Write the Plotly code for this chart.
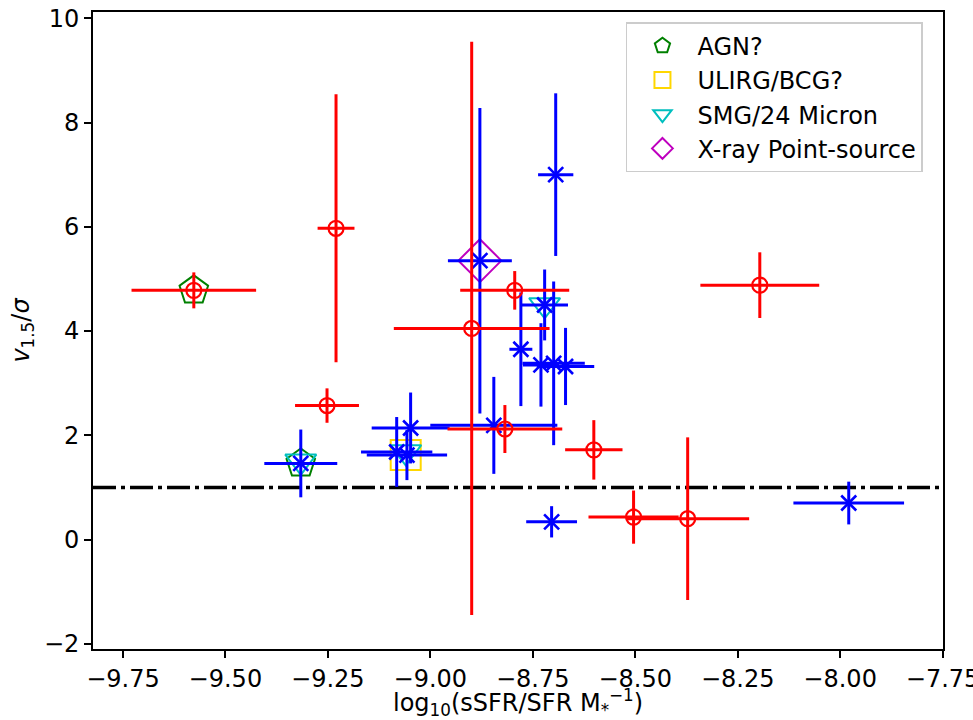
import plotly.graph_objects as go

# ---------------- data ----------------
red_x = [-9.577, -9.230, -9.252, -8.899, -8.794, -8.818, -8.601, -8.504, -8.372, -8.196]
red_y = [4.78, 5.97, 2.57, 4.05, 4.78, 2.12, 1.72, 0.43, 0.40, 4.88]
red_xerr = [0.152, 0.045, 0.078, 0.19, 0.133, 0.14, 0.07, 0.11, 0.15, 0.145]
red_yerr = [0.345, 2.57, 0.33, 5.5, 0.37, 0.46, 0.57, 0.51, 1.56, 0.63]

blue_x = [-9.316, -9.048, -9.082, -9.057, -8.879, -8.694, -8.721, -8.779,
          -8.730, -8.699, -8.670, -8.845, -8.704, -7.979]
blue_y = [1.46, 2.14, 1.68, 1.62, 5.35, 7.00, 4.50, 3.65,
          3.35, 3.38, 3.32, 2.19, 0.34, 0.70]
blue_xerr = [0.089, 0.095, 0.087, 0.098, 0.078, 0.043, 0.057, 0.028,
             0.044, 0.076, 0.07, 0.155, 0.062, 0.135]
blue_yerr = [0.65, 0.68, 0.67, 0.48, 2.93, 1.56, 0.68, 1.09,
             0.80, 1.57, 0.74, 0.93, 0.30, 0.41]

agn_x = [-9.577, -9.316]
agn_y = [4.78, 1.46]
ulirg_x = [-9.060]
ulirg_y = [1.62]
smg_x = [-9.316, -9.060, -8.721]
smg_y = [1.50, 1.68, 4.50]
xray_x = [-8.879]
xray_y = [5.35]

threshold = 1.0

x_ticks = [-9.75, -9.5, -9.25, -9.0, -8.75, -8.5, -8.25, -8.0, -7.75]
y_ticks = [-2, 0, 2, 4, 6, 8, 10]

x_title = "log<sub>10</sub>(sSFR/SFR M<sub>*</sub><sup>−1</sup>)"
y_title = "<i>v</i><sub>1.5</sub>/<i>σ</i>"

FONT = "DejaVu Sans"
FS = 24

fig = go.Figure()

# special-class markers (drawn underneath)
fig.add_trace(go.Scatter(x=agn_x, y=agn_y, mode="markers", name="AGN?",
                         marker=dict(symbol="pentagon-open", size=30,
                                     color="green", line=dict(color="green", width=2))))
fig.add_trace(go.Scatter(x=ulirg_x, y=ulirg_y, mode="markers", name="ULIRG/BCG?",
                         marker=dict(symbol="square-open", size=30,
                                     color="gold", line=dict(color="gold", width=2))))
fig.add_trace(go.Scatter(x=smg_x, y=smg_y, mode="markers", name="SMG/24 Micron",
                         marker=dict(symbol="triangle-down-open", size=27,
                                     color="#00bfbf", line=dict(color="#00bfbf", width=2))))
fig.add_trace(go.Scatter(x=xray_x, y=xray_y, mode="markers", name="X-ray Point-source",
                         marker=dict(symbol="diamond-open", size=33,
                                     color="#bf00bf", line=dict(color="#bf00bf", width=2))))

# blue sample
fig.add_trace(go.Scatter(
    x=blue_x, y=blue_y, mode="markers", showlegend=False,
    error_x=dict(type="data", array=blue_xerr, symmetric=True, color="blue", thickness=3, width=0),
    error_y=dict(type="data", array=blue_yerr, symmetric=True, color="blue", thickness=3, width=0),
    marker=dict(symbol="x-thin-open", size=15, color="blue", line=dict(color="blue", width=2.6))))

# red sample
fig.add_trace(go.Scatter(
    x=red_x, y=red_y, mode="markers", showlegend=False,
    error_x=dict(type="data", array=red_xerr, symmetric=True, color="red", thickness=3, width=0),
    error_y=dict(type="data", array=red_yerr, symmetric=True, color="red", thickness=3, width=0),
    marker=dict(symbol="circle-open", size=15, color="red", line=dict(color="red", width=2.2))))

fig.add_shape(type="line", xref="paper", x0=0, x1=1, yref="y", y0=threshold, y1=threshold,
              line=dict(color="black", width=3.5, dash="23px,5px,4px,5px"), layer="below")

# x-axis title as annotation so it can sit below the tick labels
fig.add_annotation(text=x_title, xref="paper", yref="paper", x=0.5, y=0,
                   xanchor="center", yanchor="top", yshift=-34, showarrow=False,
                   font=dict(family=FONT, size=FS, color="black"))

axis_common = dict(showgrid=False, zeroline=False, showline=True, mirror=True,
                   linecolor="black", linewidth=1.6, ticks="outside", ticklen=7,
                   tickwidth=1.6, tickcolor="black",
                   tickfont=dict(family=FONT, size=FS, color="black"))

fig.update_layout(
    width=973, height=720,
    margin=dict(l=93, r=30, t=12, b=71),
    paper_bgcolor="white", plot_bgcolor="white",
    font=dict(family=FONT, size=FS, color="black"),
    xaxis=dict(range=[-9.823, -7.749], tickvals=x_ticks, tickformat=".2f",
               ticklabeloverflow="allow", automargin=False, **axis_common),
    yaxis=dict(range=[-2.1, 10.12], tickvals=y_ticks,
               title=dict(text=y_title, font=dict(family=FONT, size=FS), standoff=8),
               automargin=False, **axis_common),
    legend=dict(x=0.627, y=0.984, xanchor="left", yanchor="top",
                bgcolor="rgba(255,255,255,0.8)", bordercolor="#cccccc", borderwidth=1.5,
                font=dict(family=FONT, size=FS), itemwidth=60, tracegroupgap=0),
    showlegend=True,
)

fig.write_html("out.html")
